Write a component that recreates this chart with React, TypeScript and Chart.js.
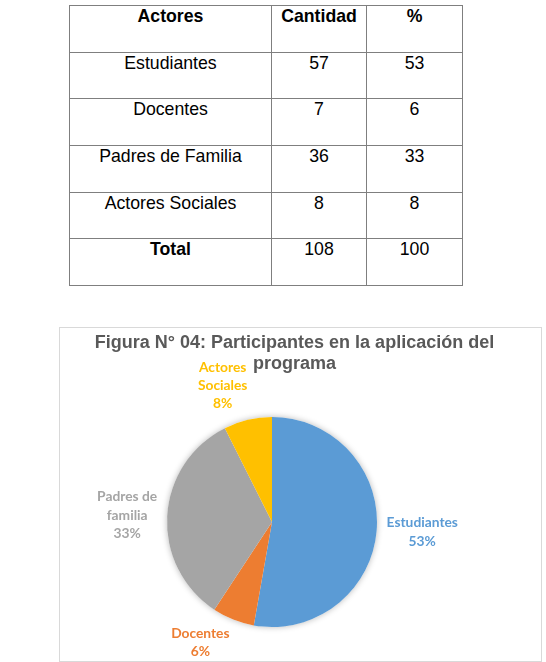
import React, { useEffect, useRef } from "react";
import { Chart, registerables } from "chart.js";

Chart.register(...registerables);

const headers = ["Actores", "Cantidad", "%"];
const actores = ["Estudiantes", "Docentes", "Padres de Familia", "Actores Sociales"];
const cantidad = [57, 7, 36, 8];
const porcentaje = [53, 6, 33, 8];
const totalLabel = "Total";
const totalCantidad = 108;
const totalPorcentaje = 100;

const sliceLabels = [["Estudiantes"], ["Docentes"], ["Padres de", "familia"], ["Actores", "Sociales"]];
const sliceColors = ["#5B9BD5", "#ED7D31", "#A5A5A5", "#FFC000"];
const titleLines = ["Figura N° 04: Participantes en la aplicación del", "programa"];

const cellStyle: React.CSSProperties = {
  border: "1px solid #7f7f7f",
  verticalAlign: "top",
  textAlign: "center",
  padding: 0,
  lineHeight: "20px",
};

function Tabla() {
  const rowH = 46.67;
  return (
    <table
      style={{
        position: "absolute",
        left: 69,
        top: 5,
        width: 393,
        borderCollapse: "collapse",
        tableLayout: "fixed",
        fontFamily: '"Liberation Sans", Arial, sans-serif',
        fontSize: 17.7,
        color: "#000",
      }}
    >
      <colgroup>
        <col style={{ width: 202 }} />
        <col style={{ width: 95 }} />
        <col style={{ width: 96 }} />
      </colgroup>
      <tbody>
        <tr style={{ height: rowH }}>
          {headers.map((h) => (
            <td key={h} style={{ ...cellStyle, fontWeight: "bold" }}>
              {h}
            </td>
          ))}
        </tr>
        {actores.map((a, i) => (
          <tr key={a} style={{ height: rowH }}>
            <td style={cellStyle}>{a}</td>
            <td style={cellStyle}>{cantidad[i]}</td>
            <td style={cellStyle}>{porcentaje[i]}</td>
          </tr>
        ))}
        <tr style={{ height: rowH }}>
          <td style={{ ...cellStyle, fontWeight: "bold" }}>{totalLabel}</td>
          <td style={cellStyle}>{totalCantidad}</td>
          <td style={cellStyle}>{totalPorcentaje}</td>
        </tr>
      </tbody>
    </table>
  );
}

function Grafico() {
  const ref = useRef<HTMLCanvasElement>(null);
  useEffect(() => {
    if (!ref.current) return;

    const shadowPlugin = {
      id: "pieShadow",
      beforeDatasetsDraw(chart: any) {
        const arc = chart.getDatasetMeta(0).data[0];
        if (!arc) return;
        const { x, y, outerRadius } = arc.getProps(["x", "y", "outerRadius"], true);
        const ctx = chart.ctx;
        ctx.save();
        ctx.shadowColor = "rgba(0,0,0,0.28)";
        ctx.shadowBlur = 6;
        ctx.fillStyle = "#ffffff";
        ctx.beginPath();
        ctx.arc(x, y, outerRadius, 0, Math.PI * 2);
        ctx.fill();
        ctx.restore();
      },
    };

    const titlePlugin = {
      id: "customTitle",
      afterDraw(chart: any) {
        const ctx = chart.ctx;
        ctx.save();
        ctx.font = 'bold 18px "Liberation Sans", Arial, sans-serif';
        ctx.fillStyle = "#595959";
        ctx.textAlign = "center";
        ctx.textBaseline = "middle";
        const cx = chart.width / 2 - 6;
        titleLines.forEach((t, i) => ctx.fillText(t, cx, 15 + i * 21.5));
        ctx.restore();
      },
    };

    const labelPlugin = {
      id: "outsideLabels",
      afterDatasetsDraw(chart: any) {
        const ctx = chart.ctx;
        const meta = chart.getDatasetMeta(0);
        const lh = 18.3;
        const gap = 10;
        ctx.save();
        ctx.font = 'bold 13.8px Lato, "Open Sans", sans-serif';
        ctx.textAlign = "center";
        ctx.textBaseline = "middle";
        meta.data.forEach((arc: any, i: number) => {
          const p = arc.getProps(["x", "y", "startAngle", "endAngle", "outerRadius"], true);
          const mid = (p.startAngle + p.endAngle) / 2;
          const dx = Math.cos(mid);
          const dy = Math.sin(mid);
          const ax = p.x + (p.outerRadius + gap) * dx;
          const ay = p.y + (p.outerRadius + gap) * dy;
          const lines = [...sliceLabels[i], porcentaje[i] + "%"];
          const w = Math.max(...lines.map((l) => ctx.measureText(l).width));
          const h = lines.length * lh;
          const sx = Math.max(-1, Math.min(1, dx * 4));
          const sy = Math.sign(dy) * Math.pow(Math.abs(dy), 4);
          const cx = ax + (sx * w) / 2;
          const cy = ay + (sy * h) / 2;
          ctx.fillStyle = sliceColors[i];
          lines.forEach((l, k) => ctx.fillText(l, cx, cy - h / 2 + lh / 2 + k * lh));
        });
        ctx.restore();
      },
    };

    const chart = new Chart(ref.current, {
      type: "pie",
      data: {
        labels: actores,
        datasets: [
          {
            data: cantidad,
            backgroundColor: sliceColors,
            borderWidth: 0,
            hoverOffset: 0,
          },
        ],
      },
      options: {
        animation: false,
        responsive: false,
        devicePixelRatio: 1,
        layout: { padding: { left: 107, right: 164, top: 89, bottom: 34 } },
        plugins: {
          legend: { display: false },
          title: { display: false },
          tooltip: { enabled: false },
        },
      },
      plugins: [shadowPlugin, labelPlugin, titlePlugin],
    });
    return () => chart.destroy();
  }, []);

  return (
    <div
      style={{
        position: "absolute",
        left: 59,
        top: 327,
        width: 481,
        height: 333,
        border: "1px solid #d9d9d9",
        background: "#fff",
      }}
    >
      <canvas ref={ref} width={481} height={333} style={{ display: "block", width: 481, height: 333 }} />
    </div>
  );
}

export default function App() {
  return (
    <div style={{ position: "absolute", left: 0, top: 0, width: 546, height: 662, background: "#fff" }}>
      <Tabla />
      <Grafico />
    </div>
  );
}
